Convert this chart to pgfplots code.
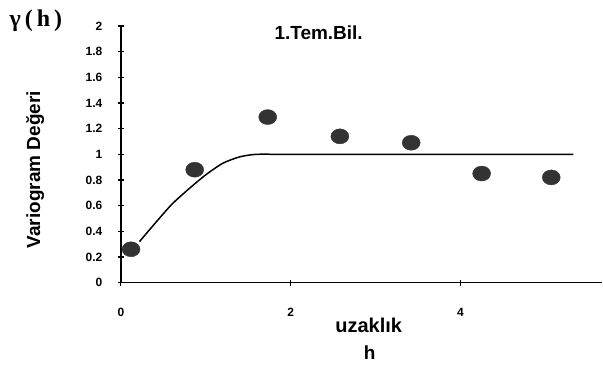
\documentclass[border=0pt]{standalone}
\usepackage{pgfplots}
\pgfplotsset{compat=1.18}
\usepackage{fontspec}
\setmainfont{Liberation Sans}
\newfontfamily\seriffont{Liberation Serif}
\begin{document}
\begin{tikzpicture}[x=1pt,y=1pt]
\path (-121,-82) rectangle (482,283);
\begin{axis}[
  at={(0,0)}, anchor=origin,
  scale only axis, width=482pt, height=257pt,
  xmin=0, xmax=5.67, ymin=0, ymax=2,
  axis x line=bottom, axis y line=left,
  axis line style={line width=1.6pt,-},
  xtick={0,2,4}, ytick={0,0.2,...,2.01},
  yticklabels={0,0.2,0.4,0.6,0.8,1,1.2,1.4,1.6,1.8,2},
  /pgf/number format/assume math mode=true,
  tick align=center, major tick length=6pt,
  tick style={line width=1.2pt,black},
  ticklabel style={font=\fontsize{12}{13}\selectfont\bfseries},
  yticklabel style={xshift=-12pt},
  xticklabel style={yshift=-19pt},
  clip=false,
]
\addplot[black, line width=1.5pt, smooth, tension=0.4] coordinates {
 (0.22,0.32) (0.4,0.46) (0.6,0.61) (0.8,0.73) (1.0,0.84) (1.2,0.93) (1.4,0.98) (1.6,1.0) (2.0,1.0) (5.33,1.0)};
\addplot[only marks, mark=*, mark size=7.5pt, mark options={fill=black!80, draw=black!80, xscale=1.2}] coordinates {
 (0.12,0.26) (0.87,0.88) (1.73,1.29) (2.58,1.14) (3.42,1.09) (4.25,0.85) (5.07,0.82)};
\node[font=\fontsize{19}{21}\selectfont\bfseries] at (axis cs:2.33,1.95) {1.Tem.Bil.};
\node[font=\fontsize{19}{21}\selectfont\bfseries, rotate=90] at (axis cs:-1.01,0.88) {Variogram Değeri};
\node[font=\fontsize{24}{26}\selectfont\bfseries\seriffont] at (axis cs:-1.0,2.04) {γ\,(\,h\,)};
\node[font=\fontsize{20}{22}\selectfont\bfseries] at (axis cs:2.92,-0.33) {uzaklık};
\node[font=\fontsize{19}{21}\selectfont\bfseries] at (axis cs:2.93,-0.545) {h};
\end{axis}
\end{tikzpicture}
\end{document}
